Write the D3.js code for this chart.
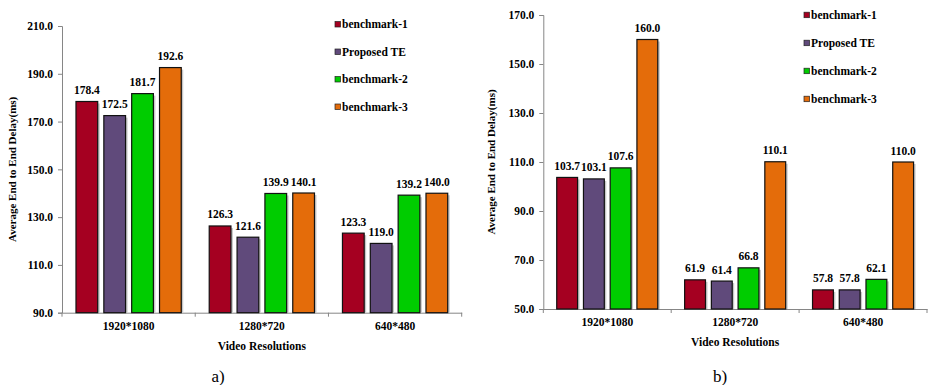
<!DOCTYPE html>
<html>
<head>
<meta charset="utf-8">
<script src="https://cdn.jsdelivr.net/npm/d3@7"></script>
<style>
  body { margin: 0; background: #fff; }
</style>
</head>
<body>
<svg id="fig" width="929" height="385"></svg>
<script>
// data
const resolutions = ['1920*1080', '1280*720', '640*480'];
const seriesNames = ['benchmark-1', 'Proposed TE', 'benchmark-2', 'benchmark-3'];
const seriesColors = ['#a50021', '#604a7b', '#00cc00', '#e46c0a'];

// panel a)
const bench1A = [178.4, 126.3, 123.3];
const proposedA = [172.5, 121.6, 119.0];
const bench2A = [181.7, 139.9, 139.2];
const bench3A = [192.6, 140.1, 140.0];
const ticksA = [90, 110, 130, 150, 170, 190, 210];

// panel b)
const bench1B = [103.7, 61.9, 57.8];
const proposedB = [103.1, 61.4, 57.8];
const bench2B = [107.6, 66.8, 62.1];
const bench3B = [160.0, 110.1, 110.0];
const ticksB = [50, 70, 90, 110, 130, 150, 170];

var svg = d3.select('#fig');
var serif = '"Liberation Serif", "Times New Roman", serif';

// layout of each panel (pixels)
var panels = [
    {series: [bench1A, proposedA, bench2A, bench3A], ticks: ticksA, label: 'a)',
     left: 62, right: 461.7, top: 26, bottom: 312.7,
     titleX: 12, legX: 335, legY: 24.3, legStep: 27.5, figX: 218},
    {series: [bench1B, proposedB, bench2B, bench3B], ticks: ticksB, label: 'b)',
     left: 543.3, right: 927, top: 15, bottom: 309,
     titleX: 491, legX: 804, legY: 15, legStep: 28, figX: 720}
];

// bold serif text helper
function boldText(sel, size) {
    return sel.style('font-family', serif)
        .style('font-weight', 'bold')
        .style('font-size', (size || 11.5) + 'px')
        .attr('fill', '#000');
}

function drawPanel(p) {
    var g = svg.append('g');

    var x0 = d3.scaleBand()
        .domain(resolutions)
        .range([p.left, p.right]);
    var bw = x0.bandwidth();
    var x1 = d3.scaleBand()
        .domain(d3.range(seriesNames.length))
        .range([bw * 0.105, bw * 0.895])
        .paddingInner(0.22);
    var y = d3.scaleLinear()
        .domain(d3.extent(p.ticks))
        .range([p.bottom, p.top]);

    // y axis
    var yAxis = d3.axisLeft(y)
        .tickValues(p.ticks)
        .tickFormat(d3.format('.1f'))
        .tickSize(4)
        .tickPadding(5);
    var yG = g.append('g')
        .attr('transform', `translate(${p.left},0)`)
        .call(yAxis);
    yG.select('.domain').attr('stroke', '#868686').attr('stroke-width', 1);
    yG.selectAll('.tick line').attr('stroke', '#868686');
    boldText(yG.selectAll('.tick text'));

    // x axis: ticks between categories
    var xAxis = d3.axisBottom(x0).tickSize(0).tickPadding(9);
    var xG = g.append('g')
        .attr('transform', `translate(0,${p.bottom})`)
        .call(xAxis);
    xG.select('.domain').attr('stroke', '#868686').attr('stroke-width', 1);
    boldText(xG.selectAll('.tick text'));
    var edges = resolutions.map(r => x0(r)).concat([p.right]);
    xG.selectAll('.sep')
        .data(edges)
        .enter().append('line')
        .attr('class', 'sep')
        .attr('x1', d => d).attr('x2', d => d)
        .attr('y1', 0).attr('y2', 4)
        .attr('stroke', '#868686');

    // bars
    var rows = [];
    p.series.forEach((vals, si) => {
        vals.forEach((v, ci) => rows.push({s: si, c: resolutions[ci], v: v}));
    });

    var bars = g.selectAll('.bar')
        .data(rows)
        .enter().append('g')
        .attr('class', 'bar')
        .attr('transform', d => `translate(${x0(d.c) + x1(d.s)},0)`);

    // soft shadow
    bars.append('rect')
        .attr('x', 2)
        .attr('y', d => y(d.v) + 2)
        .attr('width', x1.bandwidth())
        .attr('height', d => p.bottom - y(d.v) - 2)
        .attr('fill', '#c8c8c8');
    bars.append('rect')
        .attr('y', d => y(d.v))
        .attr('width', x1.bandwidth())
        .attr('height', d => p.bottom - y(d.v))
        .attr('fill', d => seriesColors[d.s])
        .attr('stroke', '#111')
        .attr('stroke-width', 1.2);
    boldText(bars.append('text'))
        .attr('x', x1.bandwidth() / 2)
        .attr('y', d => y(d.v) - 7.5)
        .attr('text-anchor', 'middle')
        .text(d => d.v.toFixed(1));

    // titles
    boldText(g.append('text'), 11)
        .attr('text-anchor', 'middle')
        .attr('transform', `translate(${p.titleX + 4},${(p.top + p.bottom) / 2}) rotate(-90)`)
        .text('Average End to End Delay(ms)');
    boldText(g.append('text'))
        .attr('text-anchor', 'middle')
        .attr('x', (p.left + p.right) / 2)
        .attr('y', p.bottom + 37)
        .text('Video Resolutions');
    g.append('text')
        .style('font-family', serif)
        .style('font-size', '17px')
        .attr('text-anchor', 'middle')
        .attr('x', p.figX)
        .attr('y', 382)
        .text(p.label);

    // legend
    var leg = g.selectAll('.leg')
        .data(seriesNames)
        .enter().append('g')
        .attr('class', 'leg')
        .attr('transform', (d, i) => `translate(${p.legX},${p.legY + i * p.legStep})`);
    leg.append('rect')
        .attr('x', 0).attr('y', -2.8)
        .attr('width', 5.5).attr('height', 5.5)
        .attr('fill', (d, i) => seriesColors[i])
        .attr('stroke', '#222')
        .attr('stroke-width', 0.7);
    boldText(leg.append('text'))
        .attr('x', 7)
        .attr('y', 4)
        .text(d => d);
}

panels.forEach(drawPanel);
</script>
</body>
</html>
